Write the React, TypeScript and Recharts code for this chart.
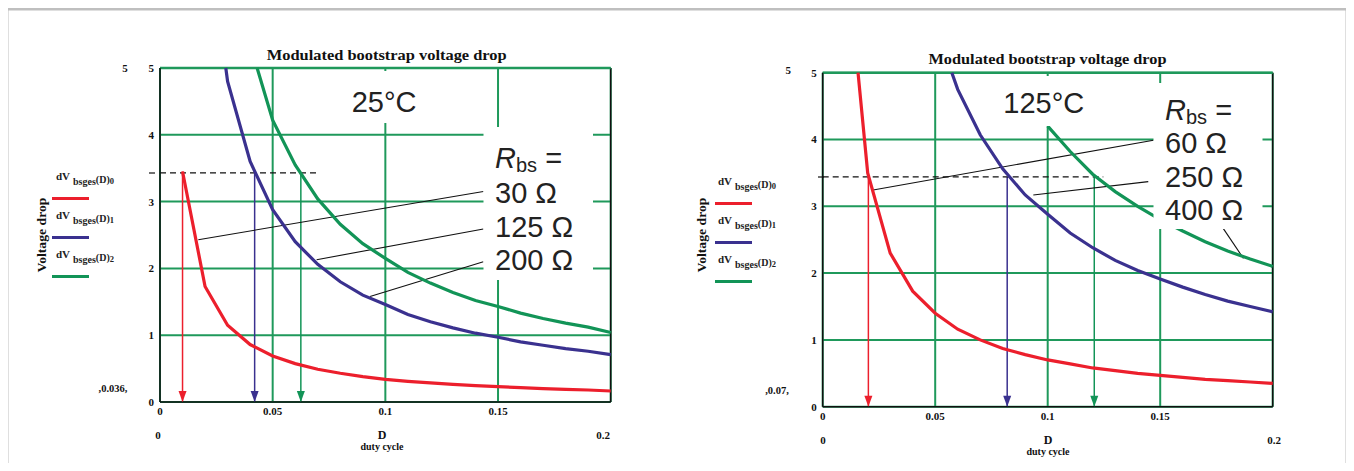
import React from 'react';
import { LineChart, Line, XAxis, YAxis, CartesianGrid, ReferenceLine } from 'recharts';

const dutyTicks = [0, 0.05, 0.1, 0.15];
const voltTicks = [0, 1, 2, 3, 4, 5];
const seriesIdx = ['0', '1', '2'];

// 25°C panel, Rbs = 30 / 125 / 200 ohm
const d25Red = [0.01, 0.02, 0.03, 0.04, 0.05, 0.06, 0.07, 0.08, 0.09, 0.1, 0.11, 0.12, 0.13, 0.14, 0.15, 0.16, 0.17, 0.18, 0.19, 0.2];
const v25Red = [3.45, 1.73, 1.15, 0.86, 0.69, 0.575, 0.49, 0.43, 0.38, 0.34, 0.31, 0.285, 0.265, 0.245, 0.23, 0.215, 0.2, 0.19, 0.18, 0.165];
const d25Blue = [0.0292, 0.03, 0.04, 0.05, 0.06, 0.07, 0.08, 0.09, 0.1, 0.11, 0.12, 0.13, 0.14, 0.15, 0.16, 0.17, 0.18, 0.19, 0.2];
const v25Blue = [5.0, 4.8, 3.6, 2.88, 2.4, 2.06, 1.8, 1.6, 1.46, 1.31, 1.2, 1.11, 1.03, 0.97, 0.9, 0.85, 0.8, 0.76, 0.71];
const d25Green = [0.0431, 0.05, 0.06, 0.07, 0.08, 0.09, 0.1, 0.11, 0.12, 0.13, 0.14, 0.15, 0.16, 0.17, 0.18, 0.19, 0.2];
const v25Green = [5.0, 4.22, 3.55, 3.04, 2.66, 2.37, 2.15, 1.94, 1.78, 1.64, 1.52, 1.43, 1.33, 1.25, 1.18, 1.12, 1.04];
const arrows25 = [0.01, 0.042, 0.0625];
const arrowTop25 = [3.45, 3.43, 3.43];
const dash25 = { y: 3.43, to: 0.0695 };
const notes25 = [
  [[0.1435, 3.15], [0.017, 2.43]],
  [[0.1435, 2.59], [0.0695, 2.13]],
  [[0.1435, 2.1], [0.0932, 1.58]],
];

// 125°C panel, Rbs = 60 / 250 / 400 ohm
const d125Red = [0.0157, 0.02, 0.03, 0.04, 0.05, 0.06, 0.07, 0.08, 0.09, 0.1, 0.11, 0.12, 0.13, 0.14, 0.15, 0.16, 0.17, 0.18, 0.19, 0.2];
const v125Red = [5.0, 3.5, 2.3, 1.73, 1.4, 1.16, 1.0, 0.87, 0.78, 0.7, 0.64, 0.58, 0.54, 0.5, 0.47, 0.44, 0.41, 0.39, 0.37, 0.35];
const d125Blue = [0.0574, 0.06, 0.07, 0.08, 0.09, 0.1, 0.11, 0.12, 0.13, 0.14, 0.15, 0.16, 0.17, 0.18, 0.19, 0.2];
const v125Blue = [5.0, 4.75, 4.07, 3.56, 3.17, 2.88, 2.6, 2.38, 2.19, 2.04, 1.91, 1.79, 1.68, 1.58, 1.5, 1.42];
const d125Green = [0.1, 0.11, 0.12, 0.13, 0.14, 0.15, 0.16, 0.17, 0.18, 0.19, 0.2];
const v125Green = [4.2, 3.82, 3.48, 3.22, 3.0, 2.8, 2.63, 2.47, 2.33, 2.21, 2.1];
const arrows125 = [0.0203, 0.082, 0.1207];
const arrowTop125 = [3.44, 3.44, 3.46];
const dash125 = { y: 3.44, to: 0.1247 };
const notes125 = [
  [[0.147, 3.99], [0.0218, 3.24]],
  [[0.1447, 3.37], [0.0936, 3.17]],
  [[0.178, 2.67], [0.187, 2.22]],
];

const RED = '#ec1f2c';
const BLUE = '#3a318f';
const GREEN = '#129457';
const GRID = '#1f995b';
const COLORS = [RED, BLUE, GREEN];

const pts = (d: number[], v: number[]) => d.map((x, i) => ({ d: x, v: v[i] }));

const arrowDot = (color: string) => (props: any) => {
  const { cx, cy, payload, index } = props;
  if (payload.v !== 0) return <g key={`a${index}`} />;
  return <path key={`a${index}`} d={`M${cx - 4},${cy - 11} L${cx + 4},${cy - 11} L${cx},${cy} Z`} fill={color} />;
};

const tickStyle = { fill: '#111', fontSize: 11, fontWeight: 'bold', fontFamily: 'Liberation Serif' };

function Panel(props: any) {
  const { left, width, margin, curves, arrows, arrowTop, dash, notes } = props;
  return (
    <div style={{ position: 'absolute', left, top: 0 }}>
      <LineChart width={width} height={471} margin={margin}>
        <CartesianGrid stroke={GRID} strokeWidth={2} />
        <XAxis
          dataKey="d"
          type="number"
          domain={[0, 0.2]}
          ticks={dutyTicks}
          interval={0}
          tickFormatter={(v: number) => String(v)}
          height={20}
          tickSize={0}
          tickMargin={5}
          tickLine={false}
          axisLine={{ stroke: '#111', strokeWidth: 1.5 }}
          tick={tickStyle}
        />
        <YAxis
          dataKey="v"
          type="number"
          domain={[0, 5]}
          ticks={voltTicks}
          interval={0}
          width={20}
          tickSize={0}
          tickMargin={6}
          tickLine={false}
          axisLine={{ stroke: '#111', strokeWidth: 1.5 }}
          tick={tickStyle}
        />
        <ReferenceLine x={0.2} stroke="#111" strokeWidth={1.5} />
        <ReferenceLine y={5} stroke={GRID} strokeWidth={2.5} />
        {arrows.map((x: number, i: number) => (
          <Line
            key={`arr${i}`}
            data={[{ d: x, v: arrowTop[i] }, { d: x, v: 0 }]}
            dataKey="v"
            stroke={COLORS[i]}
            strokeWidth={1.5}
            dot={arrowDot(COLORS[i])}
            activeDot={false}
            isAnimationActive={false}
          />
        ))}
        <Line
          data={[{ d: 0, v: dash.y }, { d: dash.to, v: dash.y }]}
          dataKey="v"
          stroke="#111"
          strokeWidth={1.2}
          strokeDasharray="6 4"
          dot={false}
          activeDot={false}
          isAnimationActive={false}
        />
        {notes.map((n: number[][], i: number) => (
          <Line
            key={`note${i}`}
            data={n.map((p) => ({ d: p[0], v: p[1] }))}
            dataKey="v"
            stroke="#111"
            strokeWidth={1.1}
            dot={false}
            activeDot={false}
            isAnimationActive={false}
          />
        ))}
        {curves.map((c: any, i: number) => (
          <Line
            key={`c${i}`}
            data={c}
            dataKey="v"
            stroke={COLORS[i]}
            strokeWidth={3.2}
            dot={false}
            activeDot={false}
            isAnimationActive={false}
          />
        ))}
      </LineChart>
    </div>
  );
}

const Legend = ({ x, y, lineX }: { x: number; y: number; lineX: number }) => (
  <g>
    {seriesIdx.map((s, i) => (
      <g key={s}>
        <text x={x} y={y + i * 39} fontFamily="Liberation Serif" fontWeight="bold" fill="#222">
          <tspan fontSize={11}>dV</tspan>
          <tspan fontSize={10} dx={3} dy={5}>bsges</tspan>
          <tspan fontSize={10} dy={-2}>(D)</tspan>
          <tspan fontSize={8.5} dy={1}>{s}</tspan>
        </text>
        <line x1={lineX} x2={lineX + 37} y1={y + 18.5 + i * 39} y2={y + 18.5 + i * 39} stroke={COLORS[i]} strokeWidth={2.8} />
      </g>
    ))}
  </g>
);

const big = { fontFamily: 'Liberation Sans', fontSize: 29, fill: '#222' } as const;
const serifB = { fontFamily: 'Liberation Serif', fontWeight: 'bold', fill: '#111' } as const;

const Rbs = ({ x, y }: { x: number; y: number }) => (
  <text x={x} y={y} {...big}>
    <tspan fontStyle="italic">R</tspan>
    <tspan fontSize={20} dy={4}>bs</tspan>
    <tspan dy={-4}> =</tspan>
  </text>
);

export default function App() {
  return (
    <div style={{ position: 'relative', width: 1354, height: 471, margin: -8, overflow: 'hidden', background: '#fff' }}>
      <Panel
        left={0}
        width={680}
        margin={{ top: 68, right: 69.3, bottom: 49, left: 140 }}
        curves={[pts(d25Red, v25Red), pts(d25Blue, v25Blue), pts(d25Green, v25Green)]}
        arrows={arrows25}
        arrowTop={arrowTop25}
        dash={dash25}
        notes={notes25}
      />
      <Panel
        left={680}
        width={674}
        margin={{ top: 72.7, right: 81.3, bottom: 44.3, left: 122.7 }}
        curves={[pts(d125Red, v125Red), pts(d125Blue, v125Blue), pts(d125Green, v125Green)]}
        arrows={arrows125}
        arrowTop={arrowTop125}
        dash={dash125}
        notes={notes125}
      />
      <svg width={1354} height={471} style={{ position: 'absolute', left: 0, top: 0, pointerEvents: 'none' }}>
        <rect x={7} y={9} width={1340} height={459} fill="none" stroke="#bfbfbf" strokeWidth={3} />

        {/* left panel */}
        <rect x={330} y={71} width={118} height={52} fill="#fff" />
        <rect x={483.5} y={127} width={109.5} height={153} fill="#fff" />
        <text x={386.7} y={59.5} textAnchor="middle" fontSize={14} textLength={240} lengthAdjust="spacingAndGlyphs" {...serifB}>
          Modulated bootstrap voltage drop
        </text>
        <text x={351.7} y={111.7} {...big}>25°C</text>
        <Rbs x={495} y={168.3} />
        <text x={495} y={202.7} {...big}>30 Ω</text>
        <text x={495} y={236.7} {...big}>125 Ω</text>
        <text x={495} y={270} {...big}>200 Ω</text>
        <text x={125} y={72} textAnchor="middle" fontSize={11} {...serifB}>5</text>
        <line x1={149} x2={155} y1={173} y2={173} stroke="#111" strokeWidth={1.2} />
        <text x={113} y={392} textAnchor="middle" fontSize={10.5} {...serifB}>,0.036,</text>
        <Legend x={56} y={180} lineX={52} />
        <text x={42} y={235} transform="rotate(-90 42 235)" textAnchor="middle" dominantBaseline="central" fontSize={11.5} textLength={75} lengthAdjust="spacingAndGlyphs" {...serifB}>
          Voltage drop
        </text>
        <text x={158} y={439} textAnchor="middle" fontSize={11} {...serifB}>0</text>
        <text x={603} y={439} textAnchor="middle" fontSize={11} {...serifB}>0.2</text>
        <text x={382} y={439} textAnchor="middle" fontSize={12} {...serifB}>D</text>
        <text x={382} y={450} textAnchor="middle" fontSize={10} {...serifB}>duty cycle</text>

        {/* right panel */}
        <rect x={995} y={76} width={105} height={50} fill="#fff" />
        <rect x={1153.5} y={83} width={109} height={146} fill="#fff" />
        <text x={1047.5} y={64} textAnchor="middle" fontSize={14} textLength={238} lengthAdjust="spacingAndGlyphs" {...serifB}>
          Modulated bootstrap voltage drop
        </text>
        <text x={1003.3} y={113.3} {...big}>125°C</text>
        <Rbs x={1165} y={120} />
        <text x={1165} y={153.3} {...big}>60 Ω</text>
        <text x={1165} y={186.7} {...big}>250 Ω</text>
        <text x={1165} y={220} {...big}>400 Ω</text>
        <text x={788.3} y={74} textAnchor="middle" fontSize={11} {...serifB}>5</text>
        <line x1={818} x2={824} y1={177} y2={177} stroke="#111" strokeWidth={1.2} />
        <text x={777} y={394} textAnchor="middle" fontSize={10.5} {...serifB}>,0.07,</text>
        <Legend x={718} y={185} lineX={715} />
        <text x={702} y={235} transform="rotate(-90 702 235)" textAnchor="middle" dominantBaseline="central" fontSize={11.5} textLength={75} lengthAdjust="spacingAndGlyphs" {...serifB}>
          Voltage drop
        </text>
        <text x={823} y={444} textAnchor="middle" fontSize={11} {...serifB}>0</text>
        <text x={1274} y={444} textAnchor="middle" fontSize={11} {...serifB}>0.2</text>
        <text x={1048} y={444} textAnchor="middle" fontSize={12} {...serifB}>D</text>
        <text x={1048} y={455} textAnchor="middle" fontSize={10} {...serifB}>duty cycle</text>
      </svg>
    </div>
  );
}
